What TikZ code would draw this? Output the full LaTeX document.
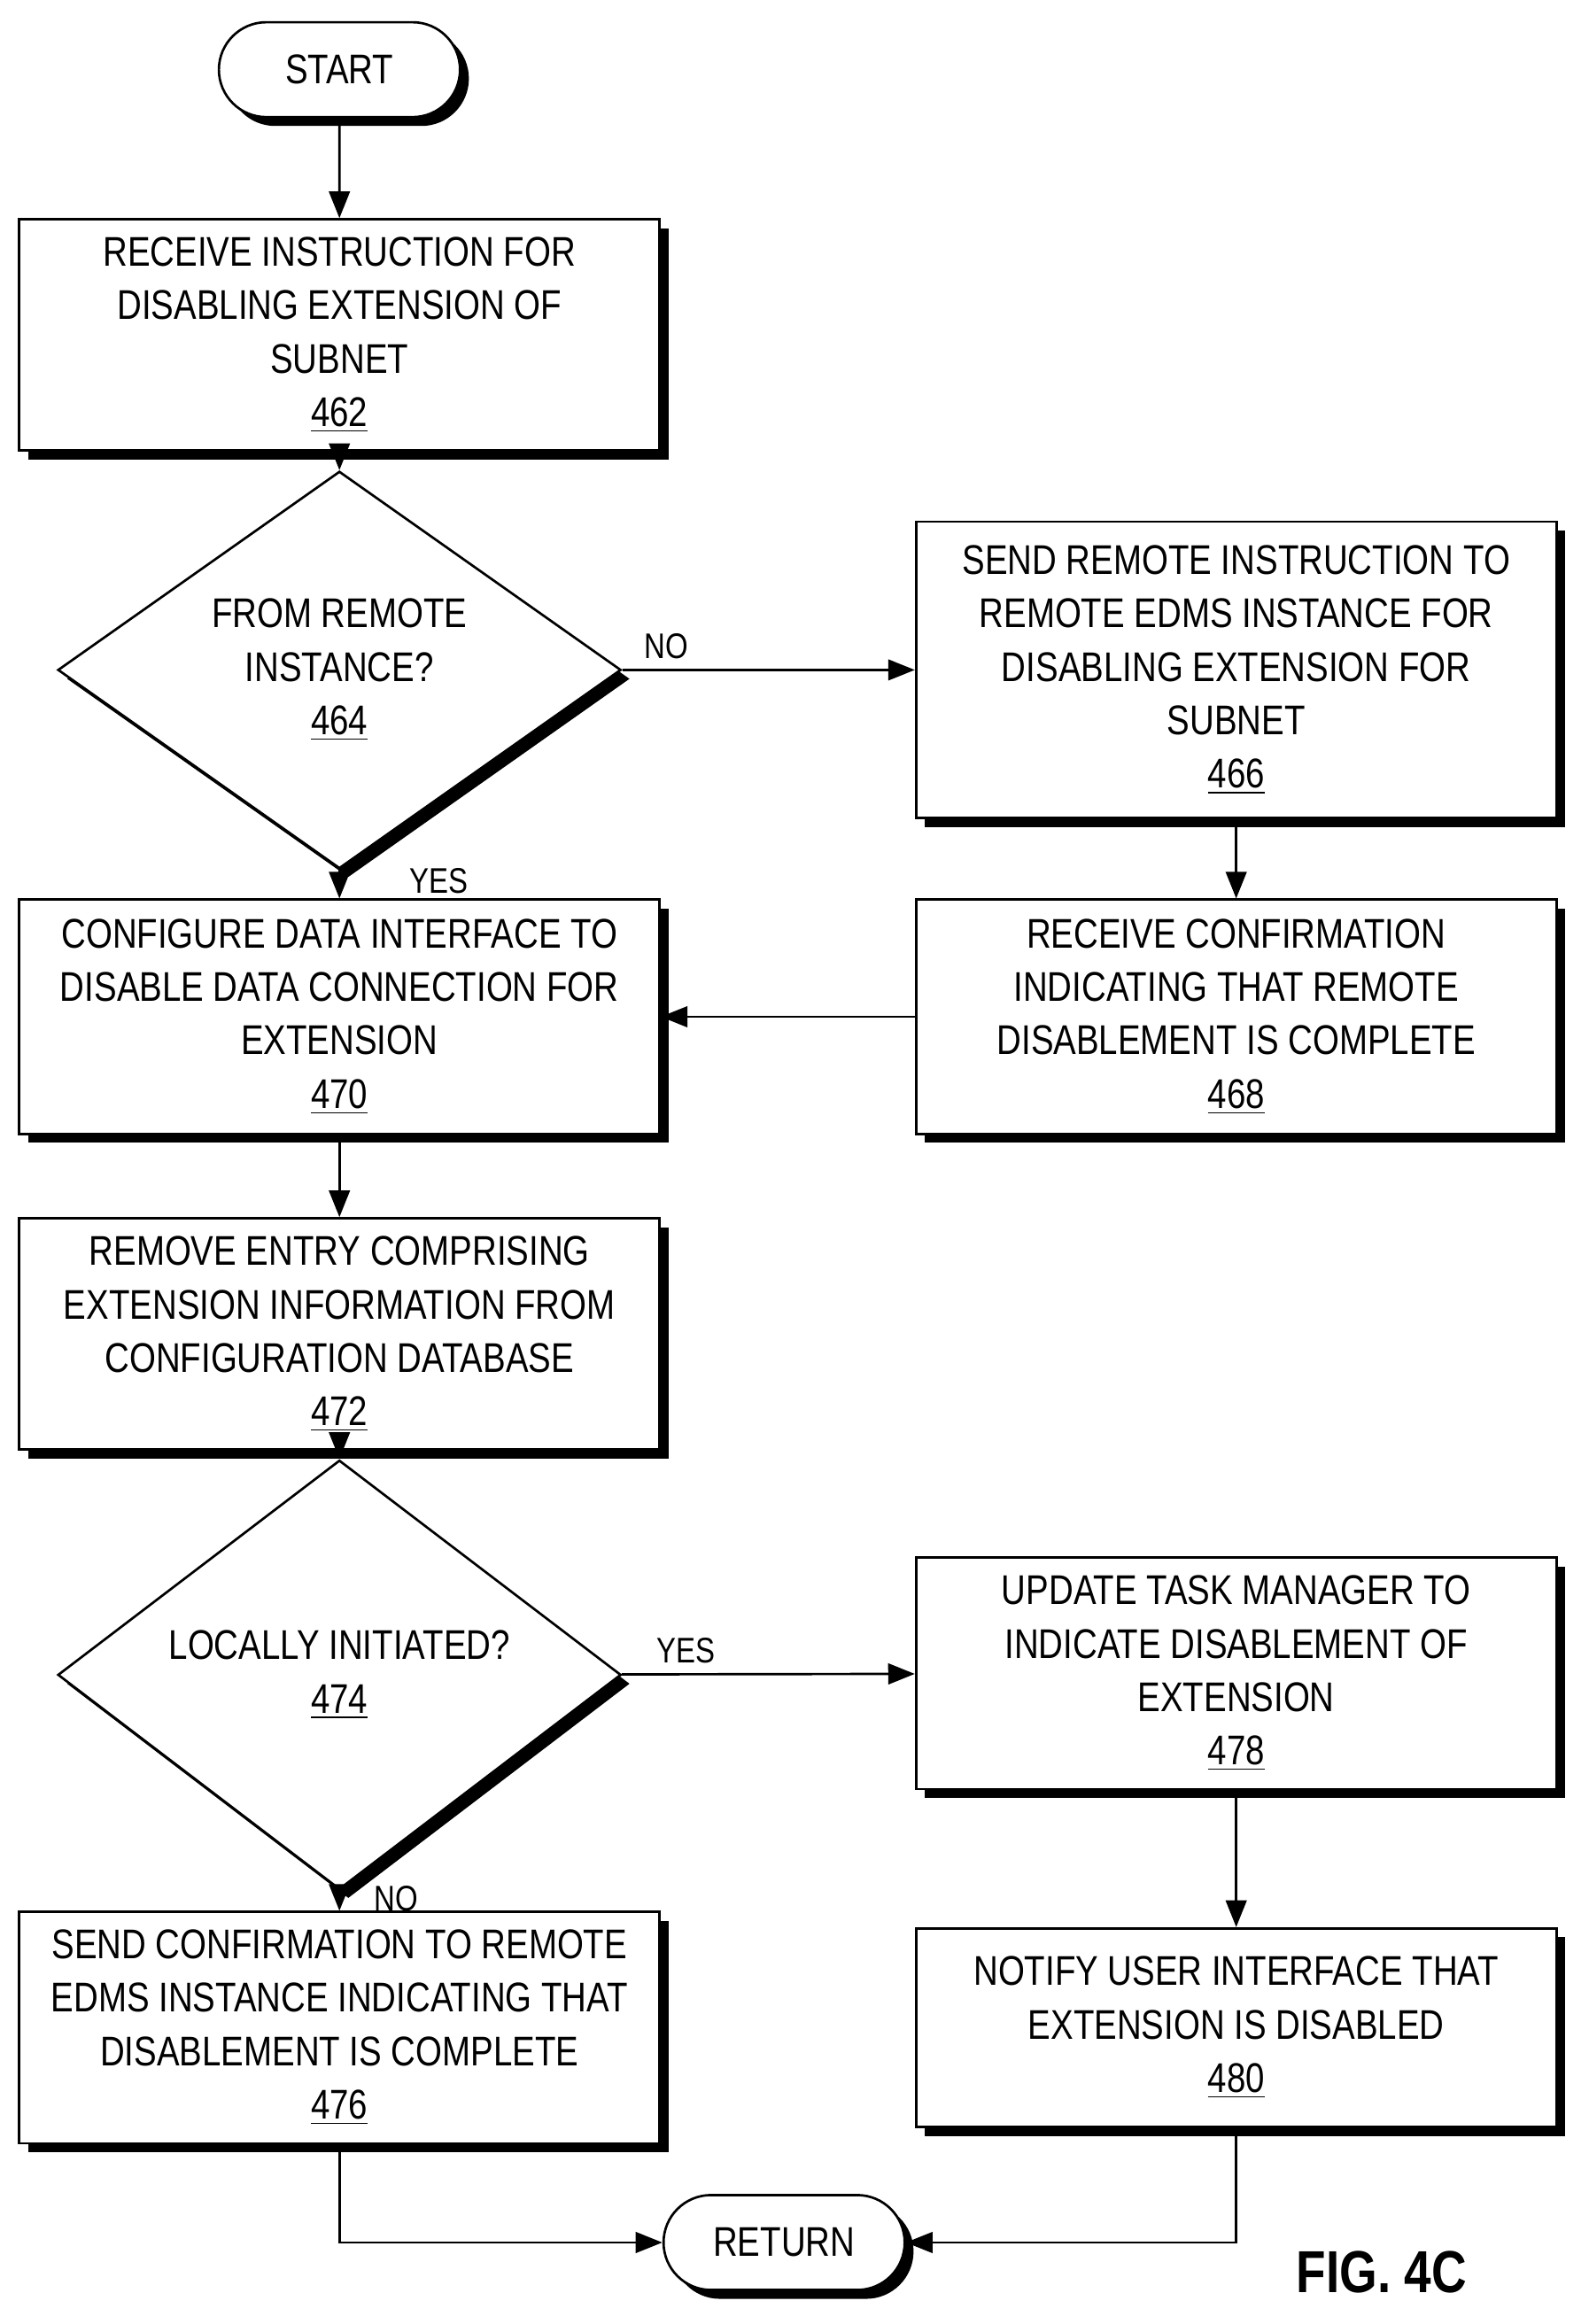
\documentclass[tikz,border=0pt]{standalone}
\usepackage{fontspec}
\setmainfont{Liberation Sans}[FakeStretch=0.82]
\usetikzlibrary{shapes.geometric,shapes.misc,shadows,arrows.meta}

\tikzset{
  dropsh/.style={drop shadow={shadow xshift=3pt, shadow yshift=-3pt, fill=black, opacity=1}},
  procbox/.style={draw, thick, fill=white, dropsh, rectangle, minimum width=216pt, align=center, font=\fontsize{14}{18}\selectfont},
  decbox/.style={draw, thick, fill=white, dropsh, diamond, minimum width=190pt, minimum height=91pt, inner sep=0pt, align=center, font=\fontsize{14}{18}\selectfont},
  endbox/.style={draw, thick, fill=white, dropsh, rounded rectangle, minimum width=88pt, minimum height=32pt, font=\fontsize{14}{18}\selectfont},
  flow/.style={thick, -{Triangle[length=9pt, width=7pt]}},
  answer/.style={font=\fontsize{12}{14}\selectfont}
}

\begin{document}
\begin{tikzpicture}[x=0.5pt, y=-0.5pt]
  \useasboundingbox (0,0) rectangle (1072,1568);

  \node[endbox] (start) at (229,47) {START};
  \node[procbox, minimum height=78pt] (s462) at (229,226) {RECEIVE INSTRUCTION FOR\\DISABLING EXTENSION OF\\SUBNET\\\underline{462}};
  \node[decbox] (t464) at (229,452) {FROM REMOTE\\INSTANCE?\\\underline{464}};
  \node[procbox, minimum height=100pt] (s466) at (834,452) {SEND REMOTE INSTRUCTION TO\\REMOTE EDMS INSTANCE FOR\\DISABLING EXTENSION FOR\\SUBNET\\\underline{466}};
  \node[procbox, minimum height=79pt] (s468) at (834,686) {RECEIVE CONFIRMATION\\INDICATING THAT REMOTE\\DISABLEMENT IS COMPLETE\\\underline{468}};
  \node[procbox, minimum height=79pt] (s470) at (229,686) {CONFIGURE DATA INTERFACE TO\\DISABLE DATA CONNECTION FOR\\EXTENSION\\\underline{470}};
  \node[procbox, minimum height=78pt] (s472) at (229,900) {REMOVE ENTRY COMPRISING\\EXTENSION INFORMATION FROM\\CONFIGURATION DATABASE\\\underline{472}};
  \node[decbox] (t474) at (229,1130) {LOCALLY INITIATED?\\\underline{474}};
  \node[procbox, minimum height=78pt] (s478) at (834,1129) {UPDATE TASK MANAGER TO\\INDICATE DISABLEMENT OF\\EXTENSION\\\underline{478}};
  \node[procbox, minimum height=67pt] (s480) at (834,1368) {NOTIFY USER INTERFACE THAT\\EXTENSION IS DISABLED\\\underline{480}};
  \node[procbox, minimum height=78pt] (s476) at (229,1368) {SEND CONFIRMATION TO REMOTE\\EDMS INSTANCE INDICATING THAT\\DISABLEMENT IS COMPLETE\\\underline{476}};
  \node[endbox] (ret) at (529,1513) {RETURN};
  \node[font=\bfseries\fontsize{20}{24}\selectfont] (fig) at (932,1533) {FIG. 4C};

  \draw[flow] (start) -- (s462);
  \draw[flow] (s462) -- (t464);
  \draw[flow] (t464) -- node[answer, above, pos=0.15] {NO} (s466);
  \draw[flow] (t464) -- node[answer, right, xshift=20pt, pos=0.4] {YES} (s470);
  \draw[flow] (s466) -- (s468);
  \draw[flow] (s468) -- (s470);
  \draw[flow] (s470) -- (s472);
  \draw[flow] (s472) -- (t474);
  \draw[flow] (t474) -- node[answer, above, pos=0.22] {YES} (s478);
  \draw[flow] (t474) -- node[answer, right, xshift=8pt, pos=0.4] {NO} (s476);
  \draw[flow] (s478) -- (s480);
  \draw[flow] (s476) |- (ret);
  \draw[flow] (s480) |- (ret);
\end{tikzpicture}
\end{document}
